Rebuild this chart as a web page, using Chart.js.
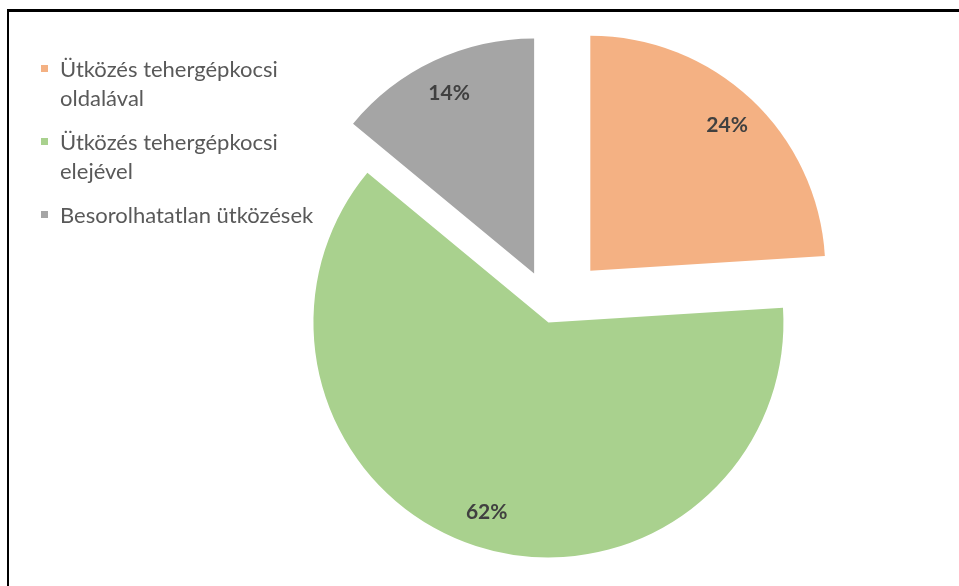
<!DOCTYPE html>
<html>
<head>
<meta charset="utf-8">
<script src="https://cdn.jsdelivr.net/npm/chart.js@4/dist/chart.umd.min.js"></script>
<style>
  html, body { margin: 0; padding: 0; width: 959px; height: 586px; overflow: hidden; background: #fff; }
  #frame { position: absolute; left: 7px; top: 9px; width: 1000px; height: 700px;
           border-top: 3px solid #000; border-left: 2px solid #000; }
  #wrap { position: absolute; left: 0; top: 0; width: 959px; height: 586px; }
  #legend { position: absolute; left: 41px; top: 54px; width: 292px;
            font-family: Lato, sans-serif; font-size: 22px; color: #595959; line-height: 29px; }
  .item { position: relative; padding-left: 19px; margin-bottom: 15px; }
  .item .box { position: absolute; left: 0; top: 11px; width: 7px; height: 7px; }
</style>
</head>
<body>
<div id="frame"></div>
<div id="wrap"><canvas id="pie" width="959" height="586"></canvas></div>
<div id="legend"></div>

<script>
// values
const categories = ['Ütközés tehergépkocsi oldalával', 'Ütközés tehergépkocsi elejével', 'Besorolhatatlan ütközések'];
const shares = [24, 62, 14];
const sliceColors = ['#F4B183', '#A9D18E', '#A5A5A5'];

// how far each slice is pulled out (px)
const explodeOffsets = [56, 11.5, 42];

// legend in html so the long labels can wrap
const legendEl = document.getElementById('legend');
categories.forEach((name, i) => {
  const item = document.createElement('div');
  item.className = 'item';
  item.innerHTML = '<span class="box" style="background:' + sliceColors[i] + '"></span>' + name;
  legendEl.appendChild(item);
});

const explodePlugin = {
  id: 'explode',
  beforeDatasetDraw(chart, args) {
    const ctx = chart.ctx;
    args.meta.data.forEach((arc, i) => {
      const mid = (arc.startAngle + arc.endAngle) / 2;
      const t = explodeOffsets[i];
      ctx.save();
      ctx.translate(Math.cos(mid) * t, Math.sin(mid) * t);
      arc.draw(ctx);
      ctx.restore();
    });
    return false; // skip the normal draw, slices are done above
  },
  afterDatasetsDraw(chart) {
    const ctx = chart.ctx;
    const meta = chart.getDatasetMeta(0);
    ctx.save();
    ctx.font = 'bold 21px Lato, sans-serif';
    ctx.fillStyle = '#404040';
    ctx.textAlign = 'center';
    ctx.textBaseline = 'middle';
    meta.data.forEach((arc, i) => {
      const mid = (arc.startAngle + arc.endAngle) / 2;
      const r = explodeOffsets[i] + arc.outerRadius * 0.85;
      ctx.fillText(shares[i] + '%', arc.x + Math.cos(mid) * r, arc.y + Math.sin(mid) * r);
    });
    ctx.restore();
  }
};

new Chart(document.getElementById('pie'), {
  type: 'pie',
  data: {
    labels: categories,
    datasets: [{
      data: shares,
      backgroundColor: sliceColors,
      borderWidth: 0
    }]
  },
  options: {
    responsive: false,
    animation: false,
    events: [],
    radius: 235,
    layout: { padding: { left: 145, right: 0, top: 37, bottom: 0 } },
    plugins: {
      legend: { display: false },
      tooltip: { enabled: false }
    }
  },
  plugins: [explodePlugin]
});
</script>
</body>
</html>
